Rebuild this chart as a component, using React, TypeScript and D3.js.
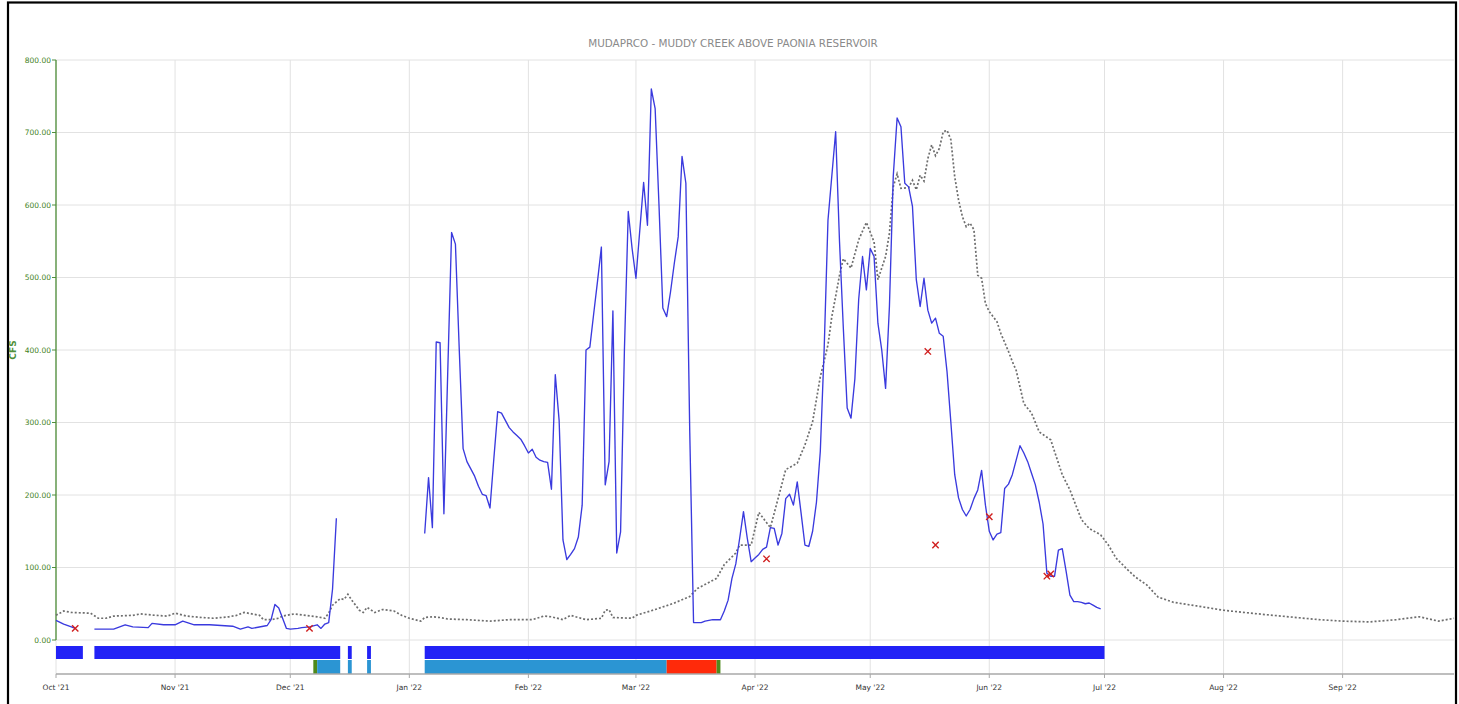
import { useEffect, useRef } from "react"
import * as d3 from "d3"

const WIDTH = 1459
const HEIGHT = 704

const chartTitle = "MUDAPRCO - MUDDY CREEK ABOVE PAONIA RESERVOIR"
const yAxisLabel = "CFS"
const yTicks = [0, 100, 200, 300, 400, 500, 600, 700, 800]
const waterYear = ["2021-10-01", "2022-09-30"]

// observed daily discharge, null marks a break in the record
const observedFlow: [string, number | null][] = [
  ["2021-10-01", 27], ["2021-10-03", 22], ["2021-10-05", 18], ["2021-10-06", 16],
  ["2021-10-08", null],
  ["2021-10-11", 15], ["2021-10-16", 15], ["2021-10-19", 21], ["2021-10-21", 18],
  ["2021-10-25", 17], ["2021-10-26", 23], ["2021-10-29", 21], ["2021-11-01", 21],
  ["2021-11-03", 26], ["2021-11-06", 21], ["2021-11-10", 21], ["2021-11-16", 19],
  ["2021-11-18", 15], ["2021-11-20", 18], ["2021-11-21", 16], ["2021-11-25", 20],
  ["2021-11-26", 28], ["2021-11-27", 49], ["2021-11-28", 44], ["2021-11-29", 30],
  ["2021-11-30", 16], ["2021-12-01", 15], ["2021-12-03", 16], ["2021-12-04", 17],
  ["2021-12-06", 18], ["2021-12-08", 21], ["2021-12-09", 16], ["2021-12-10", 22],
  ["2021-12-11", 24], ["2021-12-12", 70], ["2021-12-13", 168],
  ["2021-12-20", null],
  ["2022-01-05", 147], ["2022-01-06", 224], ["2022-01-07", 155], ["2022-01-08", 411],
  ["2022-01-09", 410], ["2022-01-10", 174], ["2022-01-11", 370], ["2022-01-12", 562],
  ["2022-01-13", 546], ["2022-01-14", 400], ["2022-01-15", 264], ["2022-01-16", 246],
  ["2022-01-17", 236], ["2022-01-18", 226], ["2022-01-19", 212], ["2022-01-20", 201],
  ["2022-01-21", 199], ["2022-01-22", 182], ["2022-01-23", 250], ["2022-01-24", 315],
  ["2022-01-25", 313], ["2022-01-26", 303], ["2022-01-27", 293], ["2022-01-28", 287],
  ["2022-01-29", 282], ["2022-01-30", 277], ["2022-01-31", 268], ["2022-02-01", 258],
  ["2022-02-02", 263], ["2022-02-03", 252], ["2022-02-04", 248], ["2022-02-05", 246],
  ["2022-02-06", 245], ["2022-02-07", 208], ["2022-02-08", 366], ["2022-02-09", 303],
  ["2022-02-10", 138], ["2022-02-11", 111], ["2022-02-12", 118], ["2022-02-13", 126],
  ["2022-02-14", 142], ["2022-02-15", 186], ["2022-02-16", 400], ["2022-02-17", 404],
  ["2022-02-18", 450], ["2022-02-19", 495], ["2022-02-20", 542], ["2022-02-21", 214],
  ["2022-02-22", 246], ["2022-02-23", 454], ["2022-02-24", 120], ["2022-02-25", 149],
  ["2022-02-26", 400], ["2022-02-27", 591], ["2022-02-28", 540], ["2022-03-01", 499],
  ["2022-03-02", 565], ["2022-03-03", 631], ["2022-03-04", 572], ["2022-03-05", 760],
  ["2022-03-06", 733], ["2022-03-07", 600], ["2022-03-08", 458], ["2022-03-09", 446],
  ["2022-03-10", 480], ["2022-03-11", 520], ["2022-03-12", 556], ["2022-03-13", 667],
  ["2022-03-14", 630], ["2022-03-15", 290], ["2022-03-16", 24], ["2022-03-17", 24],
  ["2022-03-18", 24], ["2022-03-19", 26], ["2022-03-20", 27], ["2022-03-21", 28],
  ["2022-03-22", 28], ["2022-03-23", 28], ["2022-03-24", 40], ["2022-03-25", 55],
  ["2022-03-26", 85], ["2022-03-27", 105], ["2022-03-28", 140], ["2022-03-29", 177],
  ["2022-03-30", 140], ["2022-03-31", 108], ["2022-04-01", 113], ["2022-04-02", 118],
  ["2022-04-03", 125], ["2022-04-04", 128], ["2022-04-05", 155], ["2022-04-06", 154],
  ["2022-04-07", 131], ["2022-04-08", 147], ["2022-04-09", 195], ["2022-04-10", 201],
  ["2022-04-11", 186], ["2022-04-12", 218], ["2022-04-13", 175], ["2022-04-14", 131],
  ["2022-04-15", 129], ["2022-04-16", 150], ["2022-04-17", 190], ["2022-04-18", 260],
  ["2022-04-19", 400], ["2022-04-20", 579], ["2022-04-21", 640], ["2022-04-22", 701],
  ["2022-04-23", 550], ["2022-04-24", 430], ["2022-04-25", 320], ["2022-04-26", 306],
  ["2022-04-27", 360], ["2022-04-28", 470], ["2022-04-29", 529], ["2022-04-30", 483],
  ["2022-05-01", 540], ["2022-05-02", 529], ["2022-05-03", 437], ["2022-05-04", 400],
  ["2022-05-05", 347], ["2022-05-06", 460], ["2022-05-07", 640], ["2022-05-08", 720],
  ["2022-05-09", 708], ["2022-05-10", 630], ["2022-05-11", 625], ["2022-05-12", 598],
  ["2022-05-13", 497], ["2022-05-14", 460], ["2022-05-15", 499], ["2022-05-16", 455],
  ["2022-05-17", 437], ["2022-05-18", 444], ["2022-05-19", 423], ["2022-05-20", 419],
  ["2022-05-21", 370], ["2022-05-22", 300], ["2022-05-23", 228], ["2022-05-24", 196],
  ["2022-05-25", 180], ["2022-05-26", 171], ["2022-05-27", 180], ["2022-05-28", 195],
  ["2022-05-29", 207], ["2022-05-30", 234], ["2022-05-31", 186], ["2022-06-01", 150],
  ["2022-06-02", 138], ["2022-06-03", 146], ["2022-06-04", 148], ["2022-06-05", 209],
  ["2022-06-06", 215], ["2022-06-07", 228], ["2022-06-08", 248], ["2022-06-09", 268],
  ["2022-06-10", 258], ["2022-06-11", 246], ["2022-06-12", 230], ["2022-06-13", 214],
  ["2022-06-14", 190], ["2022-06-15", 160], ["2022-06-16", 92], ["2022-06-17", 88],
  ["2022-06-18", 88], ["2022-06-19", 124], ["2022-06-20", 126], ["2022-06-21", 95],
  ["2022-06-22", 62], ["2022-06-23", 53], ["2022-06-24", 53], ["2022-06-25", 52],
  ["2022-06-26", 50], ["2022-06-27", 51], ["2022-06-28", 48], ["2022-06-29", 45],
  ["2022-06-30", 43],
]

// median daily discharge for the period of record
const medianFlow: [string, number][] = [
  ["2021-10-01", 34], ["2021-10-03", 40], ["2021-10-05", 38], ["2021-10-10", 37],
  ["2021-10-12", 30], ["2021-10-14", 30], ["2021-10-16", 33], ["2021-10-21", 34],
  ["2021-10-23", 36], ["2021-10-27", 34], ["2021-10-30", 33], ["2021-11-01", 37],
  ["2021-11-04", 33], ["2021-11-08", 31], ["2021-11-11", 30], ["2021-11-15", 32],
  ["2021-11-17", 34], ["2021-11-19", 38], ["2021-11-23", 34], ["2021-11-24", 28],
  ["2021-11-26", 28], ["2021-11-28", 30], ["2021-11-29", 33], ["2021-12-02", 36],
  ["2021-12-05", 34], ["2021-12-08", 32], ["2021-12-10", 30], ["2021-12-11", 37],
  ["2021-12-12", 48], ["2021-12-14", 57], ["2021-12-15", 56], ["2021-12-16", 63],
  ["2021-12-17", 55], ["2021-12-19", 41], ["2021-12-20", 38], ["2021-12-21", 45],
  ["2021-12-23", 38], ["2021-12-25", 42], ["2021-12-28", 40], ["2021-12-30", 34],
  ["2022-01-01", 30], ["2022-01-04", 26], ["2022-01-05", 31], ["2022-01-07", 32],
  ["2022-01-09", 31], ["2022-01-11", 29], ["2022-01-16", 28], ["2022-01-22", 26],
  ["2022-01-27", 28], ["2022-02-02", 28], ["2022-02-05", 33], ["2022-02-07", 32],
  ["2022-02-10", 28], ["2022-02-12", 34], ["2022-02-16", 28], ["2022-02-20", 30],
  ["2022-02-21", 41], ["2022-02-22", 42], ["2022-02-23", 31], ["2022-02-28", 30],
  ["2022-03-01", 34], ["2022-03-06", 42], ["2022-03-11", 51], ["2022-03-15", 60],
  ["2022-03-17", 71], ["2022-03-22", 85], ["2022-03-24", 104], ["2022-03-27", 120],
  ["2022-03-28", 131], ["2022-03-31", 131], ["2022-04-02", 176], ["2022-04-05", 155],
  ["2022-04-09", 235], ["2022-04-12", 244], ["2022-04-14", 269], ["2022-04-16", 301],
  ["2022-04-18", 363], ["2022-04-20", 407], ["2022-04-21", 446], ["2022-04-22", 474],
  ["2022-04-23", 503], ["2022-04-24", 526], ["2022-04-26", 513], ["2022-04-28", 552],
  ["2022-04-30", 576], ["2022-05-02", 549], ["2022-05-03", 497], ["2022-05-05", 529],
  ["2022-05-06", 561], ["2022-05-07", 625], ["2022-05-08", 643], ["2022-05-09", 623],
  ["2022-05-11", 624], ["2022-05-12", 634], ["2022-05-13", 621], ["2022-05-14", 641],
  ["2022-05-15", 633], ["2022-05-16", 664], ["2022-05-17", 683], ["2022-05-18", 668],
  ["2022-05-19", 678], ["2022-05-20", 701], ["2022-05-21", 703], ["2022-05-22", 690],
  ["2022-05-23", 639], ["2022-05-24", 607], ["2022-05-25", 584], ["2022-05-26", 570],
  ["2022-05-27", 575], ["2022-05-28", 566], ["2022-05-29", 503], ["2022-05-30", 499],
  ["2022-05-31", 464], ["2022-06-01", 453], ["2022-06-02", 446], ["2022-06-03", 439],
  ["2022-06-04", 423], ["2022-06-06", 398], ["2022-06-07", 384], ["2022-06-08", 372],
  ["2022-06-10", 326], ["2022-06-12", 313], ["2022-06-14", 287], ["2022-06-17", 276],
  ["2022-06-18", 260], ["2022-06-20", 228], ["2022-06-22", 207], ["2022-06-25", 166],
  ["2022-06-27", 154], ["2022-06-30", 145], ["2022-07-02", 131], ["2022-07-04", 113],
  ["2022-07-07", 97], ["2022-07-09", 87], ["2022-07-12", 76], ["2022-07-15", 59],
  ["2022-07-19", 52], ["2022-07-25", 47], ["2022-08-01", 41], ["2022-08-10", 36],
  ["2022-08-18", 32], ["2022-08-26", 28], ["2022-09-01", 26], ["2022-09-08", 25],
  ["2022-09-15", 28], ["2022-09-21", 32], ["2022-09-26", 26], ["2022-09-30", 30],
]

// field measurements (red crosses)
const fieldMeasurements: [string, number][] = [
  ["2021-10-06", 16], ["2021-12-06", 16], ["2022-04-04", 112], ["2022-05-16", 398],
  ["2022-05-18", 131], ["2022-06-01", 170], ["2022-06-16", 88], ["2022-06-17", 91],
]

// periods with a record (top strip)
const recordSpans: [string, string][] = [
  ["2021-10-01", "2021-10-08"], ["2021-10-11", "2021-12-14"], ["2021-12-16", "2021-12-17"],
  ["2021-12-21", "2021-12-22"], ["2022-01-05", "2022-07-01"],
]

// qualifier periods (bottom strip)
const qualifierSpans: [string, string, string][] = [
  ["2021-12-07", "2021-12-08", "estimated"], ["2021-12-08", "2021-12-14", "ice"],
  ["2021-12-16", "2021-12-17", "ice"], ["2021-12-21", "2021-12-22", "ice"],
  ["2022-01-05", "2022-03-09", "ice"], ["2022-03-09", "2022-03-22", "backwater"],
  ["2022-03-22", "2022-03-23", "estimated"],
]
const qualifierColors: Record<string, string> = {
  estimated: "#4f8a1c",
  ice: "#2b95d3",
  backwater: "#ff2a0a",
}

export default function App() {
  const svgRef = useRef<SVGSVGElement>(null)

  useEffect(() => {
    document.body.style.margin = "0"
    if (!svgRef.current) return
    const svg = d3.select(svgRef.current)
    svg.selectAll("*").remove()

    const parse = d3.timeParse("%Y-%m-%d")
    const left = 56
    const right = 1454
    const top = 60
    const zeroY = 640
    const axisY = 674
    const font = "'DejaVu Sans', Verdana, sans-serif"

    const x = d3.scaleTime().domain(waterYear.map((d) => parse(d)!)).range([left, right])
    const y = d3.scaleLinear().domain([0, 800]).range([zeroY, top])

    // frame
    svg.append("rect")
      .attr("x", 8).attr("y", 2.5).attr("width", 1448).attr("height", 760)
      .attr("fill", "white").attr("stroke", "#000").attr("stroke-width", 2.2)

    svg.append("text")
      .attr("x", 733).attr("y", 47)
      .attr("text-anchor", "middle")
      .attr("font-family", font).attr("font-size", 10.4)
      .attr("fill", "#8a8a8a")
      .text(chartTitle)

    const months = d3.timeMonth.range(parse("2021-10-01")!, parse("2022-10-01")!)

    // grid
    svg.append("g").selectAll("line").data(yTicks).join("line")
      .attr("x1", left).attr("x2", right)
      .attr("y1", (d) => y(d)).attr("y2", (d) => y(d))
      .attr("stroke", "#e2e2e2").attr("stroke-width", 1)
    svg.append("g").selectAll("line").data(months).join("line")
      .attr("x1", (d) => x(d)).attr("x2", (d) => x(d))
      .attr("y1", top).attr("y2", axisY)
      .attr("stroke", "#e2e2e2").attr("stroke-width", 1)

    // record strip
    svg.append("g").selectAll("rect").data(recordSpans).join("rect")
      .attr("x", (d) => x(parse(d[0])!))
      .attr("width", (d) => x(parse(d[1])!) - x(parse(d[0])!))
      .attr("y", 646).attr("height", 13)
      .attr("fill", "#2222f6")

    // qualifier strip
    svg.append("g").selectAll("rect").data(qualifierSpans).join("rect")
      .attr("x", (d) => x(parse(d[0])!))
      .attr("width", (d) => x(parse(d[1])!) - x(parse(d[0])!))
      .attr("y", 660).attr("height", 14)
      .attr("fill", (d) => qualifierColors[d[2]])

    // x axis
    svg.append("line")
      .attr("x1", left).attr("x2", right).attr("y1", axisY).attr("y2", axisY)
      .attr("stroke", "#a8a8a8").attr("stroke-width", 1.5)
    svg.append("g").selectAll("line").data(months).join("line")
      .attr("x1", (d) => x(d)).attr("x2", (d) => x(d))
      .attr("y1", axisY).attr("y2", axisY + 4)
      .attr("stroke", "#a8a8a8")
    const fmt = d3.timeFormat("%b '%y")
    svg.append("g").selectAll("text").data(months).join("text")
      .attr("x", (d) => x(d)).attr("y", 690)
      .attr("text-anchor", "middle")
      .attr("font-family", font).attr("font-size", 7.5)
      .attr("fill", "#333")
      .text((d) => fmt(d))

    // y axis
    svg.append("line")
      .attr("x1", left).attr("x2", left).attr("y1", top).attr("y2", zeroY)
      .attr("stroke", "#4f8f3a").attr("stroke-width", 1.3)
    svg.append("g").selectAll("line").data(yTicks).join("line")
      .attr("x1", left - 4).attr("x2", left)
      .attr("y1", (d) => y(d)).attr("y2", (d) => y(d))
      .attr("stroke", "#4f8f3a")
    svg.append("g").selectAll("text").data(yTicks).join("text")
      .attr("x", left - 5).attr("y", (d) => y(d) + 2.7)
      .attr("text-anchor", "end")
      .attr("font-family", font).attr("font-size", 7.5)
      .attr("fill", "#3f7f25")
      .text((d) => d3.format(".2f")(d))
    svg.append("text")
      .attr("transform", "translate(16, 350) rotate(-90)")
      .attr("text-anchor", "middle")
      .attr("font-family", font).attr("font-size", 9).attr("font-weight", "bold")
      .attr("fill", "#4f8f3a")
      .text(yAxisLabel)

    // median line
    const medianLine = d3.line<[string, number]>()
      .x((d) => x(parse(d[0])!))
      .y((d) => y(d[1]))
    svg.append("path")
      .datum(medianFlow)
      .attr("d", medianLine)
      .attr("fill", "none")
      .attr("stroke", "#6e6e6e")
      .attr("stroke-width", 1.7)
      .attr("stroke-dasharray", "2,2")

    // observed line
    const observedLine = d3.line<[string, number | null]>()
      .defined((d) => d[1] !== null)
      .x((d) => x(parse(d[0])!))
      .y((d) => y(d[1] as number))
    svg.append("path")
      .datum(observedFlow)
      .attr("d", observedLine)
      .attr("fill", "none")
      .attr("stroke", "#3a3ade")
      .attr("stroke-width", 1.35)
      .attr("stroke-linejoin", "round")

    // field measurements
    const cross = d3.symbol().type(d3.symbolX).size(28)
    svg.append("g").selectAll("path").data(fieldMeasurements).join("path")
      .attr("transform", (d) => `translate(${x(parse(d[0])!)}, ${y(d[1])})`)
      .attr("d", cross)
      .attr("fill", "none")
      .attr("stroke", "#d01f1f")
      .attr("stroke-width", 1.4)
  }, [])

  return <svg ref={svgRef} width={WIDTH} height={HEIGHT} style={{ display: "block" }} />
}
